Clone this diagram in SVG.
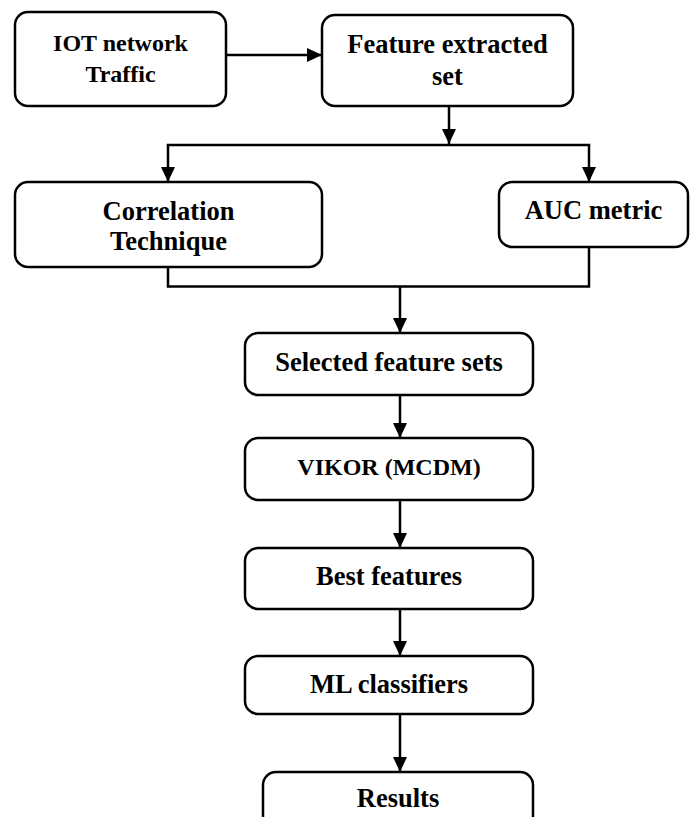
<svg xmlns="http://www.w3.org/2000/svg" width="695" height="817" viewBox="0 0 695 817">
<style>
  .box { fill: #ffffff; stroke: #000000; stroke-width: 2.5; }
  .lbl { font-family: "Liberation Serif", "Times New Roman", serif; font-weight: bold; font-size: 26.5px; fill: #000000; text-anchor: middle; }
  .sm { font-size: 24px; }
  .wire { fill: none; stroke: #000000; stroke-width: 2.5; }
</style>
<defs>
  <marker id="arr" viewBox="0 0 15 14" markerWidth="15" markerHeight="14" refX="15" refY="7" orient="auto" markerUnits="userSpaceOnUse">
    <path d="M0,0 L15,7 L0,14 z" fill="#000000"/>
  </marker>
</defs>
<rect width="695" height="817" fill="#ffffff"/>

<g id="connectors">
  <line class="wire" x1="226" y1="55" x2="322" y2="55" marker-end="url(#arr)"/>
  <line class="wire" x1="449" y1="106" x2="449" y2="144" marker-end="url(#arr)"/>
  <line class="wire" x1="166.75" y1="145" x2="590.25" y2="145"/>
  <line class="wire" x1="168" y1="145" x2="168" y2="182" marker-end="url(#arr)"/>
  <line class="wire" x1="589" y1="145" x2="589" y2="182" marker-end="url(#arr)"/>
  <polyline class="wire" points="168,267 168,286.5 589,286.5 589,247"/>
  <line class="wire" x1="400" y1="286.5" x2="400" y2="333" marker-end="url(#arr)"/>
  <line class="wire" x1="400" y1="395" x2="400" y2="438" marker-end="url(#arr)"/>
  <line class="wire" x1="400" y1="500" x2="400" y2="548" marker-end="url(#arr)"/>
  <line class="wire" x1="400" y1="609" x2="400" y2="656" marker-end="url(#arr)"/>
  <line class="wire" x1="400" y1="714" x2="400" y2="772" marker-end="url(#arr)"/>
</g>

<g id="node-iot">
  <rect class="box" x="15" y="12" width="211" height="94" rx="13"/>
  <text class="lbl sm" x="120.5" y="51">IOT network</text>
  <text class="lbl sm" x="120.5" y="82">Traffic</text>
</g>
<g id="node-feature">
  <rect class="box" x="322" y="15" width="251" height="91" rx="13"/>
  <text class="lbl" x="447.5" y="53">Feature extracted</text>
  <text class="lbl" x="447.5" y="85">set</text>
</g>
<g id="node-correlation">
  <rect class="box" x="15" y="182" width="307" height="85" rx="13"/>
  <text class="lbl" x="168.5" y="220">Correlation</text>
  <text class="lbl" x="168.5" y="250">Technique</text>
</g>
<g id="node-auc">
  <rect class="box" x="499" y="182" width="189" height="65" rx="13"/>
  <text class="lbl" x="593.5" y="219">AUC metric</text>
</g>
<g id="node-selected">
  <rect class="box" x="245" y="333" width="288" height="62" rx="13"/>
  <text class="lbl" x="389" y="371">Selected feature sets</text>
</g>
<g id="node-vikor">
  <rect class="box" x="245" y="438" width="288" height="62" rx="13"/>
  <text class="lbl sm" x="389" y="475">VIKOR (MCDM)</text>
</g>
<g id="node-best">
  <rect class="box" x="245" y="548" width="288" height="61" rx="13"/>
  <text class="lbl" x="389" y="585">Best features</text>
</g>
<g id="node-ml">
  <rect class="box" x="245" y="656" width="288" height="58" rx="13"/>
  <text class="lbl" x="389" y="693">ML classifiers</text>
</g>
<g id="node-results">
  <rect class="box" x="263" y="772" width="270" height="70" rx="13"/>
  <text class="lbl" x="398" y="807">Results</text>
</g>
</svg>
